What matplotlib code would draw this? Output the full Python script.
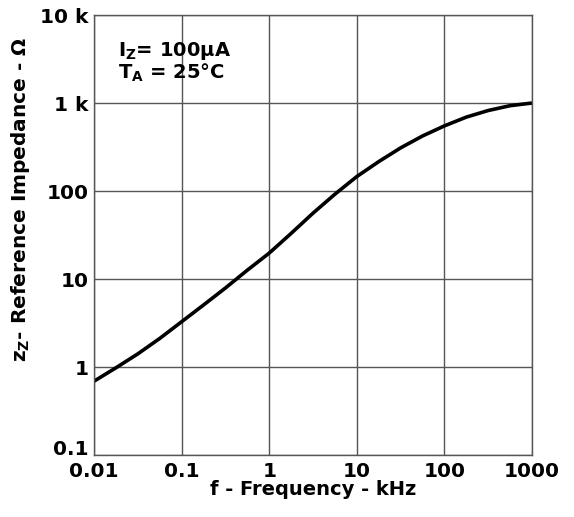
import matplotlib.pyplot as plt
import numpy as np

plt.rcParams['font.family'] = ['DejaVu Sans']
plt.rcParams['font.weight'] = 'bold'
plt.rcParams['mathtext.default'] = 'bf'

# frequency in kHz and reference impedance in ohms
freq = [0.01, 0.0178, 0.0316, 0.0562, 0.1, 0.178, 0.316, 0.562, 1, 1.78, 3.16, 5.62,
        10, 17.8, 31.6, 56.2, 100, 178, 316, 562, 1000]
imped = [0.69, 0.98, 1.41, 2.11, 3.27, 5.07, 7.9, 12.6, 19.7, 33, 56, 92,
         146, 216, 309, 422, 550, 692, 822, 933, 1000]

x_ticks = [0.01, 0.1, 1, 10, 100, 1000]
x_labels = ['0.01', '0.1', '1', '10', '100', '1000']
y_ticks = [0.1, 1, 10, 100, 1000, 10000]
y_labels = ['0.1', '1', '10', '100', '1 k', '10 k']

fig = plt.figure(figsize=(5.74, 5.17), dpi=100)
ax = fig.add_axes([0.1638, 0.1199, 0.763, 0.851])

ax.plot(freq, imped, color='black', linewidth=2.6, solid_capstyle='butt')

ax.set_xscale('log')
ax.set_yscale('log')
ax.set_xlim(0.01, 1000)
ax.set_ylim(0.1, 10000)
ax.set_xticks(x_ticks)
ax.set_xticklabels(x_labels)
ax.set_yticks(y_ticks)
ax.set_yticklabels(y_labels)
ax.minorticks_off()
ax.tick_params(length=0, labelsize=14.5)
ax.tick_params(axis='x', pad=5)
ax.tick_params(axis='y', pad=4)
ax.get_yticklabels()[0].set_va('baseline')
ax.grid(color='#555555', linewidth=1.0)
for s in ax.spines.values():
    s.set_color('#555555')
    s.set_linewidth(1.0)

ax.set_xlabel('f - Frequency - kHz', fontsize=14, fontweight='bold')
ax.xaxis.set_label_coords(0.5, -0.057)
ax.set_ylabel('z$_Z$- Reference Impedance - Ω', fontsize=14.5, fontweight='bold')
ax.yaxis.set_label_coords(-0.142, 0.58)

ax.text(0.055, 0.918, 'I$_Z$= 100μA', transform=ax.transAxes, fontsize=14, fontweight='bold', va='center')
ax.text(0.055, 0.868, 'T$_A$ = 25°C', transform=ax.transAxes, fontsize=14, fontweight='bold', va='center')

plt.savefig('out.png', dpi=100)
